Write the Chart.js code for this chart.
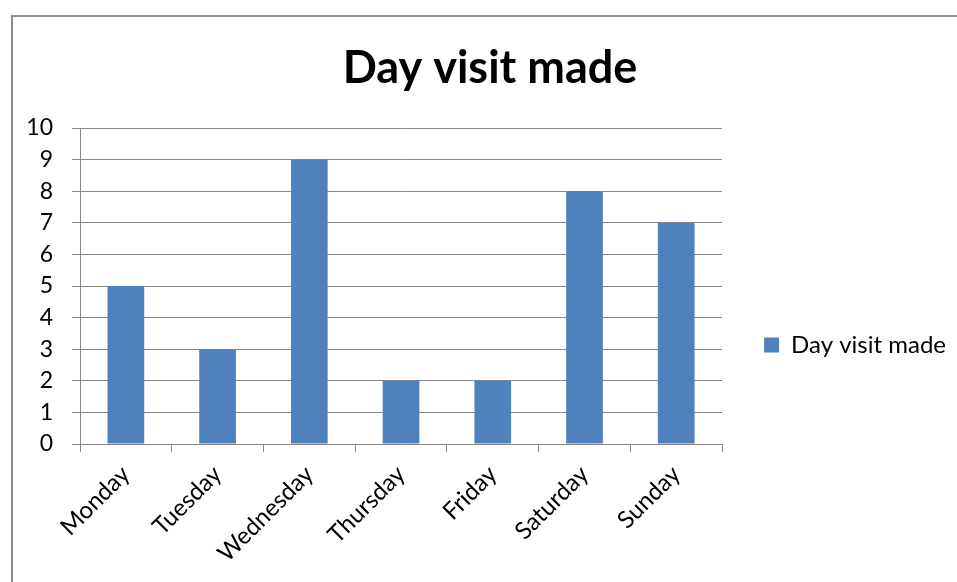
<!DOCTYPE html>
<html>
<head>
<meta charset="utf-8">
<script src="https://cdn.jsdelivr.net/npm/chart.js@4"></script>
<style>
  html, body { margin: 0; padding: 0; background: #fff; }
  canvas { display: block; }
</style>
</head>
<body>
<canvas id="myChart" width="957" height="582"></canvas>
<script>
const days = ['Monday', 'Tuesday', 'Wednesday', 'Thursday', 'Friday', 'Saturday', 'Sunday'];
const visits = [5, 3, 9, 2, 2, 8, 7];
const seriesName = 'Day visit made';
const chartTitle = 'Day visit made';

const gridGray = '#878787';

// outer frame like the Excel chart border
const framePlugin = {
    id: 'frame',
    beforeDraw(chart) {
        const c = chart.ctx;
        c.save();
        c.fillStyle = '#fff';
        c.fillRect(0, 0, chart.width, chart.height);
        c.strokeStyle = '#8c8c8c';
        c.lineWidth = 2;
        c.strokeRect(12, 16, 1200, 1200);
        c.restore();
    }
};

// title centred on the whole chart frame, not on the canvas minus legend
const titlePlugin = {
    id: 'frameTitle',
    afterDraw(chart) {
        const c = chart.ctx;
        c.save();
        c.fillStyle = '#000';
        c.font = 'bold 45px Lato';
        c.textAlign = 'center';
        c.textBaseline = 'middle';
        c.fillText(chartTitle, 490, 68);
        c.restore();
    }
};

const ctx = document.getElementById('myChart');
const myChart = new Chart(ctx, {
    type: 'bar',
    data: {
        labels: days,
        datasets: [{
            label: seriesName,
            data: visits,
            backgroundColor: '#4F81BD',
            borderWidth: 0,
            barPercentage: 0.5,
            categoryPercentage: 0.8
        }]
    },
    options: {
        responsive: false,
        devicePixelRatio: 1,
        animation: false,
        layout: {
            padding: { top: 128, left: 12, right: 1, bottom: 20 }
        },
        plugins: {
            title: { display: false },
            legend: {
                position: 'right',
                labels: {
                    boxWidth: 15,
                    boxHeight: 15,
                    padding: 42,
                    color: '#000',
                    font: { family: 'Lato', size: 24 }
                }
            },
            tooltip: { enabled: false }
        },
        scales: {
            x: {
                grid: {
                    display: true,
                    drawOnChartArea: false,
                    drawTicks: true,
                    tickLength: 8,
                    color: gridGray,
                    lineWidth: 1
                },
                border: { display: true, color: gridGray, width: 1 },
                ticks: {
                    color: '#000',
                    font: { family: 'Lato', size: 24 },
                    minRotation: 45,
                    maxRotation: 45,
                    autoSkip: false,
                    padding: 8
                },
                afterFit(scale) { scale.height = 118; }
            },
            y: {
                min: 0,
                max: 10,
                grid: {
                    color: gridGray,
                    lineWidth: 1,
                    drawTicks: true,
                    tickLength: 8
                },
                border: { display: true, color: gridGray, width: 1 },
                ticks: {
                    stepSize: 1,
                    color: '#000',
                    font: { family: 'Lato', size: 23 },
                    padding: 19
                },
                afterFit(scale) { scale.width = 68; }
            }
        }
    },
    plugins: [framePlugin, titlePlugin]
});
</script>
</body>
</html>
